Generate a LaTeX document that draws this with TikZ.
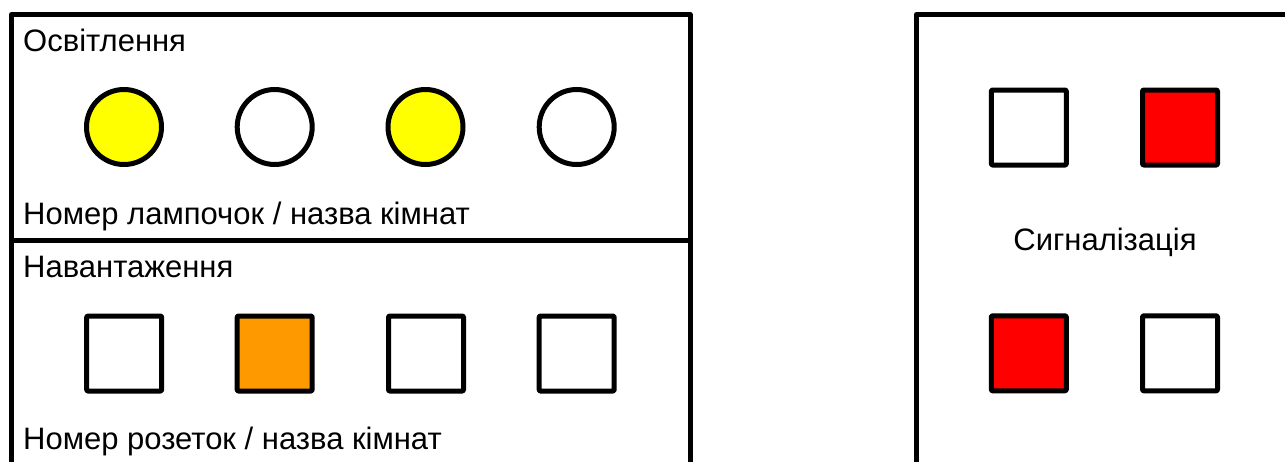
\documentclass[tikz,border=0pt]{standalone}
\usepackage{fontspec}
\setmainfont{Liberation Sans}
\definecolor{lampon}{HTML}{FFFF00}
\definecolor{loadon}{HTML}{FF9900}
\definecolor{alarmon}{HTML}{FF0000}
\begin{document}
\begin{tikzpicture}[x=1pt,y=-1pt,
  panel/.style={line width=5pt,line join=round},
  lamp/.style={circle,draw,line width=5pt,minimum size=75pt,inner sep=0pt,fill=white},
  sock/.style={rectangle,draw,line width=5pt,minimum size=75pt,inner sep=0pt,fill=white,line join=round,rounded corners=1pt},
  lbl/.style={anchor=base west,inner sep=0pt,font=\fontsize{31}{36}\selectfont},
  clbl/.style={anchor=base,inner sep=0pt,font=\fontsize{31}{36}\selectfont}]
\useasboundingbox (0,0) rectangle (1285,461);
\clip (0,0) rectangle (1285,461);
% panels
\draw[panel] (11.5,475) -- (11.5,14.5) -- (690,14.5) -- (690,475);
\draw[panel] (11.5,240) -- (690,240);
\draw[panel] (916.5,475) -- (916.5,14.5) -- (1300,14.5);
% labels
\node[lbl] (t1) at (23,51.5) {Освітлення};
\node[lbl] (t2) at (23,224) {Номер лампочок / назва кімнат};
\node[lbl] (t3) at (23,277) {Навантаження};
\node[lbl] (t4) at (23,449) {Номер розеток / назва кімнат};
\node[clbl] (t5) at (1105,250) {Сигналізація};
% lamps
\node[lamp,fill=lampon] (l1) at (124,127) {};
\node[lamp] (l2) at (274.7,127) {};
\node[lamp,fill=lampon] (l3) at (425.5,127) {};
\node[lamp] (l4) at (576.7,127) {};
% sockets
\node[sock] (s1) at (124.2,353.5) {};
\node[sock,fill=loadon] (s2) at (274.7,353.5) {};
\node[sock] (s3) at (426,353.5) {};
\node[sock] (s4) at (576.7,353.5) {};
% alarms
\node[sock] (a1) at (1028.8,127.5) {};
\node[sock,fill=alarmon] (a2) at (1180,127.5) {};
\node[sock,fill=alarmon] (a3) at (1028.8,353.3) {};
\node[sock] (a4) at (1180,353.3) {};
\end{tikzpicture}
\end{document}
